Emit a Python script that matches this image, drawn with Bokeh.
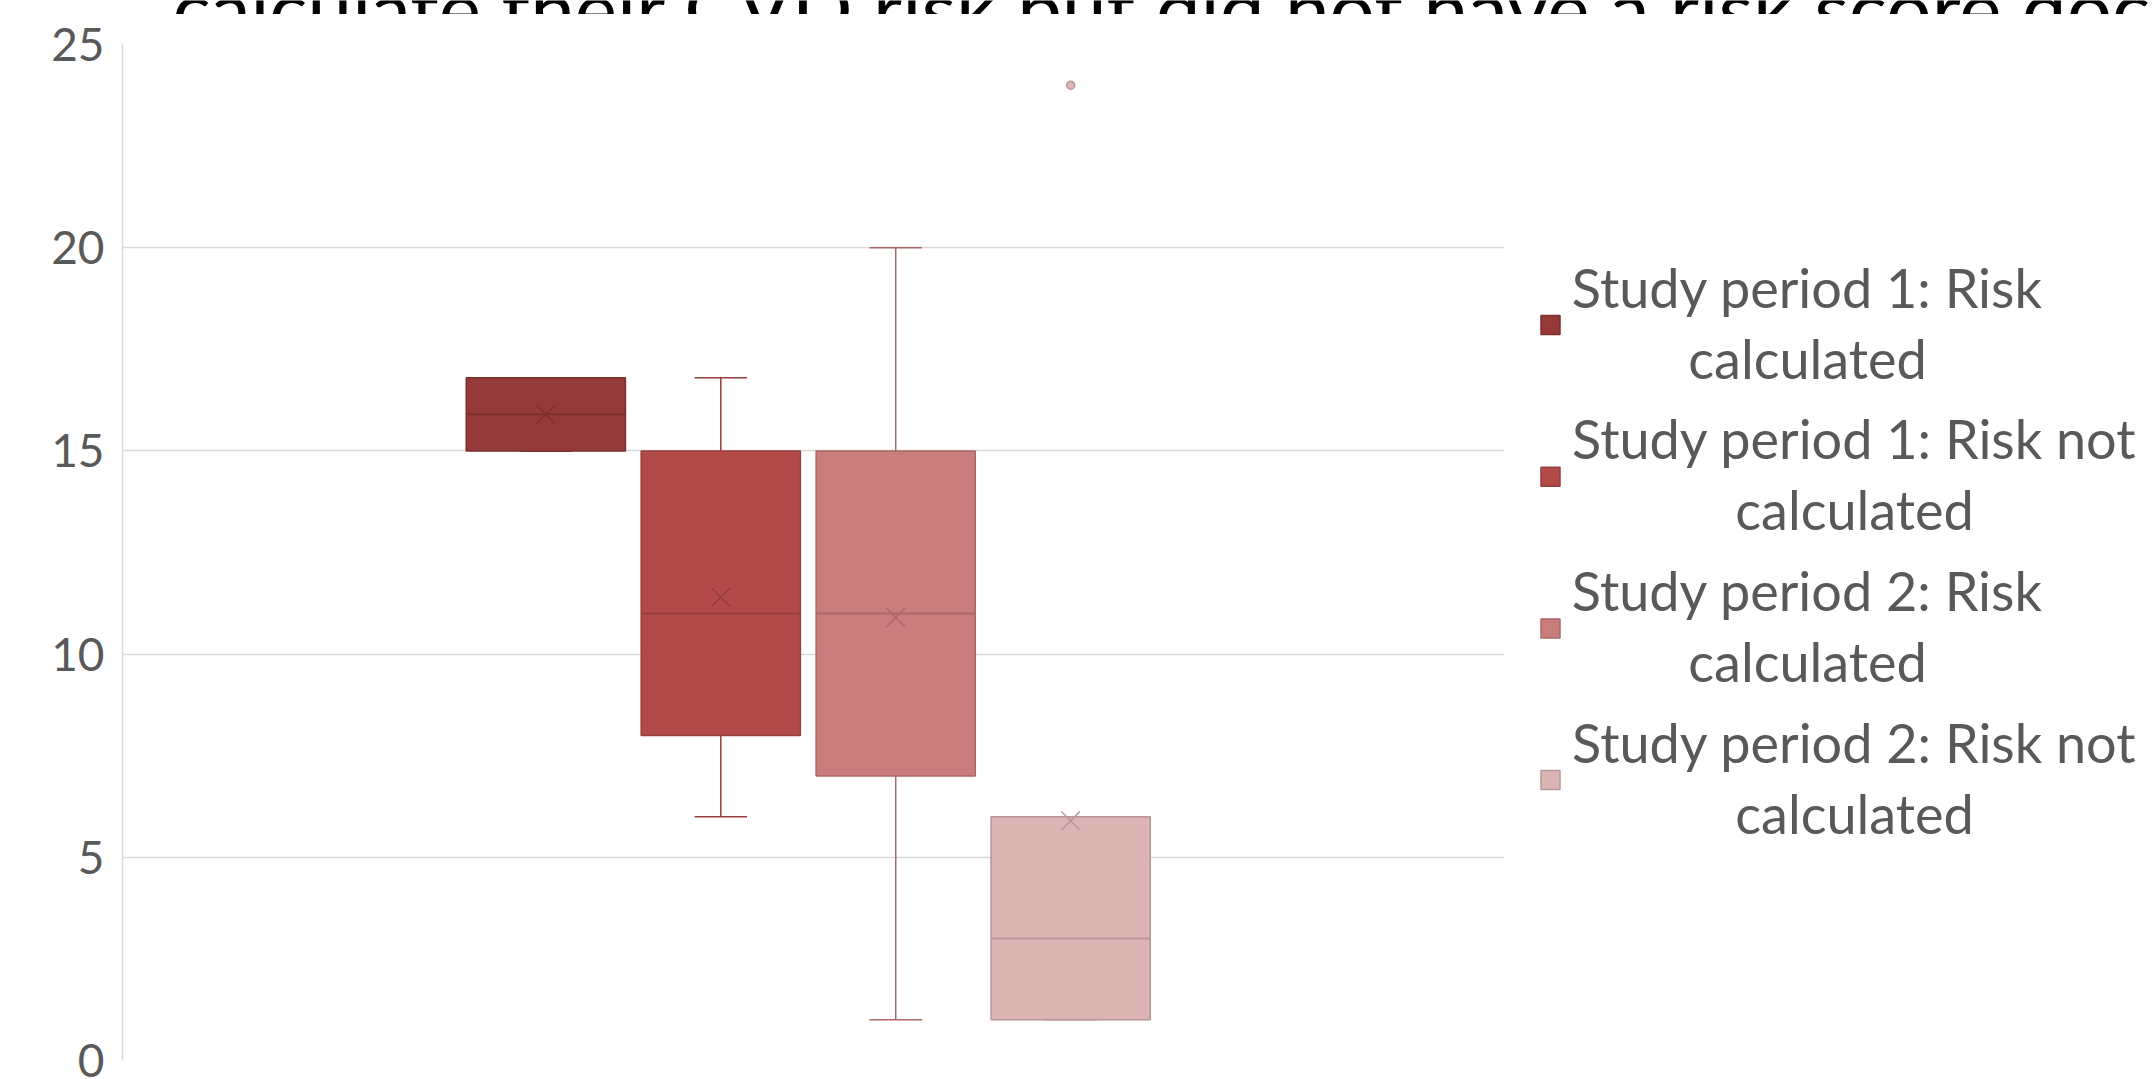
from bokeh.plotting import figure
from bokeh.layouts import column, row
from bokeh.models import Range1d, Label, ColumnDataSource, FixedTicker
from bokeh.core.properties import value
from bokeh.embed import file_html
from bokeh.resources import INLINE

# ---- data ----
series = [
    "Study period 1: Risk\ncalculated",
    "Study period 1: Risk not\ncalculated",
    "Study period 2: Risk\ncalculated",
    "Study period 2: Risk not\ncalculated",
]
whisker_low = [15, 6, 1, 1]
q1 = [15, 8, 7, 1]
median = [15.9, 11, 11, 3]
q3 = [16.8, 15, 15, 6]
whisker_high = [16.8, 16.8, 20, 6]
mean = [15.9, 11.4, 10.9, 5.9]
outlier_series = [3]
outlier_values = [24]
y_ticks = [0, 5, 10, 15, 20, 25]
title_text = "calculate their CVD risk but did not have a risk score documented"

# ---- styles ----
fills = ["#953A39", "#B24B48", "#C97D7C", "#DDB4B4"]
edges = ["#7D2F2E", "#963E3C", "#A96867", "#B99595"]
FONT = "Lato"
BW = 0.91      # box width (in series-index units)
CAP = 0.30     # whisker cap width

W, H = 2153, 1079
TITLE_H = 14
FRAME_L, FRAME_R, FRAME_T, FRAME_B = 122, 1504, 44, 1060

# ---- cut-off title strip ----
tfig = figure(width=W, height=TITLE_H, min_border=0, title=None,
              x_range=Range1d(0, 1), y_range=Range1d(0, 1),
              output_backend="svg", toolbar_location=None)
tfig.axis.visible = False
tfig.grid.visible = False
tfig.outline_line_color = None
tfig.add_layout(Label(x=172, y=8, x_units="screen", y_units="screen", text=title_text,
                      text_font=FONT, text_font_size="80px", text_color="black",
                      text_baseline="alphabetic", text_align="left"))

# ---- main box plot ----
xs = list(range(len(series)))
src = ColumnDataSource(dict(
    x=xs, q1=q1, q3=q3, med=median, lo=whisker_low, hi=whisker_high, mean=mean,
    fill=fills, edge=edges,
    bl=[x - BW / 2 for x in xs], br=[x + BW / 2 for x in xs],
    cl=[x - CAP / 2 for x in xs], cr=[x + CAP / 2 for x in xs],
))

p = figure(
    frame_width=FRAME_R - FRAME_L, frame_height=FRAME_B - FRAME_T, title=None,
    min_border_left=FRAME_L, min_border_right=0,
    min_border_top=FRAME_T - TITLE_H, min_border_bottom=H - FRAME_B,
    x_range=Range1d(-2.42, 5.48), y_range=Range1d(0, 25),
    output_backend="svg", toolbar_location=None,
)
p.outline_line_color = None

p.segment(x0="x", y0="q3", x1="x", y1="hi", source=src, line_color="edge", line_width=1.5)
p.segment(x0="x", y0="lo", x1="x", y1="q1", source=src, line_color="edge", line_width=1.5)
p.segment(x0="cl", y0="hi", x1="cr", y1="hi", source=src, line_color="edge", line_width=1.5)
p.segment(x0="cl", y0="lo", x1="cr", y1="lo", source=src, line_color="edge", line_width=1.5)
p.vbar(x="x", width=BW, bottom="q1", top="q3", source=src,
       fill_color="fill", line_color="edge", line_width=1.5)
p.segment(x0="bl", y0="med", x1="br", y1="med", source=src, line_color="edge", line_width=2)
p.scatter(x="x", y="mean", source=src, marker="x", size=26, line_color="edge", line_width=1.5)
p.scatter(x=outlier_series, y=outlier_values, marker="circle", size=8,
          fill_color=fills[3], line_color=edges[3], line_width=1.5)

p.xaxis.visible = False
p.xgrid.visible = False
yax = p.yaxis[0]
yax.ticker = FixedTicker(ticks=y_ticks)
yax.major_label_text_font = FONT
yax.major_label_text_font_size = "46px"
yax.major_label_text_color = "#595959"
yax.major_label_standoff = 18
yax.major_tick_out = 0
yax.major_tick_in = 0
yax.minor_tick_out = 0
yax.minor_tick_in = 0
yax.major_tick_line_color = None
yax.minor_tick_line_color = None
yax.axis_line_color = "#D9D9D9"
yax.axis_line_width = 1.5
p.ygrid.grid_line_color = "#D9D9D9"
p.ygrid.grid_line_width = 1.5
p.ygrid.ticker = FixedTicker(ticks=y_ticks)

# ---- legend panel (coordinates = page pixels; its frame is aligned with the main frame) ----
LEG_W = W - FRAME_R
lfig = figure(width=LEG_W, height=H - TITLE_H, min_border=0, title=None,
              x_range=Range1d(FRAME_R, W), y_range=Range1d(FRAME_B, FRAME_T),
              output_backend="svg", toolbar_location=None)
lfig.axis.visible = False
lfig.grid.visible = False
lfig.outline_line_color = None

first_lines = [s.split("\n")[0] for s in series]
second_lines = [s.split("\n")[1] for s in series]
TEXT_SHIFT = 22   # compensate the text glyph's baseline placement
base1 = [308.5 + 151.7 * i - TEXT_SHIFT for i in range(len(series))]
base2 = [b + 71 for b in base1]
centers = [1807, 1854, 1807, 1854]
sq_y = [324.5 + 151.7 * i for i in range(len(series))]

lfig.rect(x=[1550] * len(series), y=sq_y, width=19, height=19,
          fill_color=fills, line_color=edges, line_width=1.5)
lfig.text(x=centers, y=base1, text=first_lines, text_font=value(FONT), text_font_size="54px",
          text_color="#595959", text_align="center", text_baseline="alphabetic")
lfig.text(x=centers, y=base2, text=second_lines, text_font=value(FONT), text_font_size="54px",
          text_color="#595959", text_align="center", text_baseline="alphabetic")

layout = column(tfig, row(p, lfig, spacing=0), spacing=0)
open("out.html", "w").write(file_html(layout, INLINE))
